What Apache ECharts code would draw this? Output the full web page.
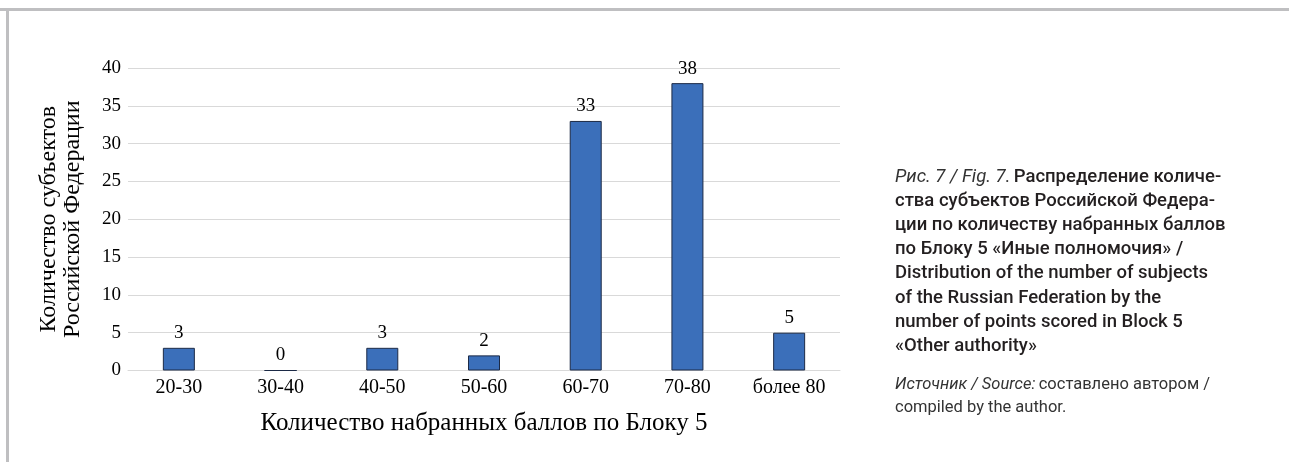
<!DOCTYPE html>
<html><head><meta charset="utf-8">
<script src="https://cdn.jsdelivr.net/npm/echarts@6/dist/echarts.min.js"></script>
<style>html,body{margin:0;padding:0;background:#fff}#c{width:1289px;height:462px}</style>
</head><body><div id="c"></div>
<script>
const categories = ['20-30','30-40','40-50','50-60','60-70','70-80','более 80'];
const values = [3, 0, 3, 2, 33, 38, 5];
const yTicks = {min: 0, max: 40, interval: 5};
const xAxisName = 'Количество набранных баллов по Блоку 5';
const yAxisName = 'Количество субъектов\nРоссийской Федерации';
const captionLines = [
  'ства субъектов Российской Федера-',
  'ции по количеству набранных баллов',
  'по Блоку 5 «Иные полномочия» /',
  'Distribution of the number of subjects',
  'of the Russian Federation by the',
  'number of points scored in Block 5',
  '«Other authority»'
];

const serif = '"Liberation Serif", "Times New Roman", serif';
const sans = 'Roboto, "Liberation Sans", sans-serif';
const chart = echarts.init(document.getElementById('c'), null, {renderer: 'canvas'});

const capX = 895, capY0 = 177, capStep = 24.2, capFs = 18.5, srcFs = 16.5;
const graphic = [
  {type: 'rect', shape: {x: 0, y: 8, width: 1289, height: 3}, style: {fill: '#bfbfc1'}, silent: true},
  {type: 'rect', shape: {x: 6, y: 8, width: 3, height: 454}, style: {fill: '#bfbfc1'}, silent: true},
  {type: 'text', x: capX, y: capY0, style: {
    text: '{i|Рис. 7 / Fig. 7.} {b|Распределение количе-}',
    verticalAlign: 'middle',
    rich: {
      i: {font: 'italic 400 ' + capFs + 'px ' + sans, fill: '#333'},
      b: {font: '500 ' + capFs + 'px ' + sans, fill: '#231f20'}
    }
  }}
];
captionLines.forEach((t, k) => {
  graphic.push({type: 'text', x: capX, y: capY0 + (k + 1) * capStep,
    style: {text: t, verticalAlign: 'middle', font: '500 ' + capFs + 'px ' + sans, fill: '#231f20'}});
});
graphic.push({type: 'text', x: capX, y: 385, style: {
  text: '{i|Источник / Source:} {n|составлено автором /}',
  verticalAlign: 'middle',
  rich: {
    i: {font: 'italic 400 ' + srcFs + 'px ' + sans, fill: '#333'},
    n: {font: '400 ' + srcFs + 'px ' + sans, fill: '#333'}
  }
}});
graphic.push({type: 'text', x: capX, y: 408, style: {text: 'compiled by the author.', verticalAlign: 'middle', font: '400 ' + srcFs + 'px ' + sans, fill: '#333'}});

chart.setOption({
  animation: false,
  grid: {left: 128, right: 449, top: 68, bottom: 91.5, containLabel: false},
  xAxis: {
    type: 'category', data: categories,
    axisLine: {lineStyle: {color: '#d9d9d9', width: 1}},
    axisTick: {show: false},
    axisLabel: {color: '#000', fontFamily: serif, fontSize: 20, margin: 7},
    name: xAxisName, nameLocation: 'middle', nameGap: 40,
    nameTextStyle: {color: '#000', fontFamily: serif, fontSize: 25}
  },
  yAxis: {
    type: 'value', min: yTicks.min, max: yTicks.max, interval: yTicks.interval,
    axisLine: {show: false}, axisTick: {show: false},
    splitLine: {lineStyle: {color: '#d9d9d9', width: 1}},
    axisLabel: {color: '#000', fontFamily: serif, fontSize: 19, margin: 7},
    name: yAxisName, nameLocation: 'middle', nameRotate: 90, nameGap: 43,
    nameTextStyle: {color: '#000', fontFamily: serif, fontSize: 24, lineHeight: 24, align: 'center'}
  },
  series: [{
    type: 'bar', data: values, barWidth: 32,
    itemStyle: {color: '#3b6fba', borderColor: '#1c2a46', borderWidth: 1},
    label: {show: true, position: 'top', distance: 5, color: '#000', fontFamily: serif, fontSize: 19}
  }],
  graphic: graphic
});
</script></body></html>
